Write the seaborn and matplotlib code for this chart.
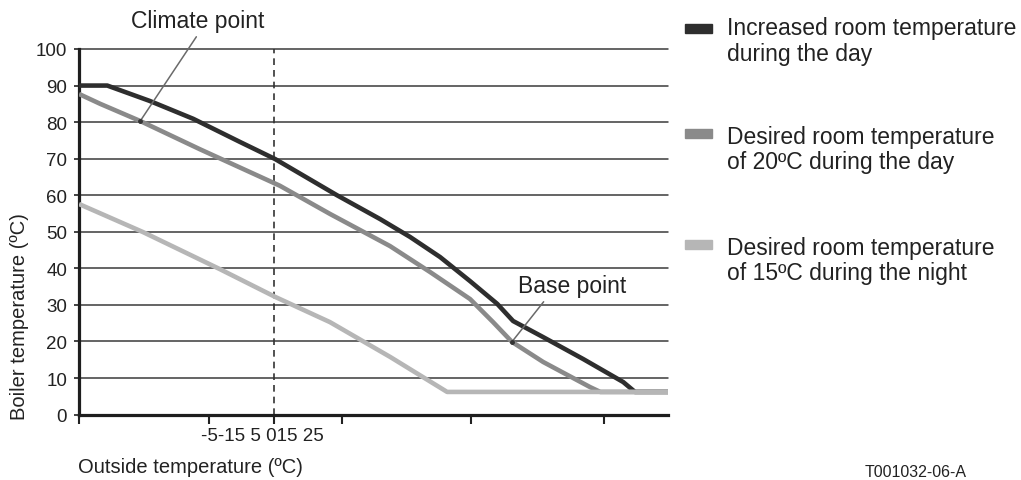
"""
Heating curve: boiler temperature vs outside temperature
"""

import matplotlib
matplotlib.use("Agg")
import matplotlib.pyplot as plt
from matplotlib.patches import Rectangle
import pandas as pd
import seaborn as sns

# curve data (x = position along the outside temperature axis, 0..100)
day_high_x = [0, 4.8, 12.0, 19.4, 27.3, 33.3, 43.8, 51.1, 56.2, 61.3, 66.4, 71.0, 73.7, 78.8, 85.6, 92.4, 94.4, 100]
day_high_y = [90, 90, 85.8, 80.9, 74.6, 69.9, 60.0, 53.5, 48.6, 43.1, 36.5, 30.3, 25.6, 21.2, 15.2, 8.9, 6.2, 6.2]
day_20_x = [0, 3.6, 10.4, 20.5, 34.1, 42.6, 52.8, 59.6, 66.4, 70.3, 73.5, 78.8, 86.8, 88.5, 100]
day_20_y = [87.7, 85.0, 80.3, 72.6, 62.6, 54.9, 46.1, 39.0, 31.6, 25.3, 19.9, 14.4, 7.5, 6.2, 6.2]
night_15_x = [0, 10.9, 23.9, 33.3, 42.6, 52.8, 62.5, 100]
night_15_y = [57.6, 49.9, 39.8, 32.2, 25.3, 15.8, 6.2, 6.2]

series_names = [
    "Increased room temperature\nduring the day",
    "Desired room temperature\nof 20ºC during the day",
    "Desired room temperature\nof 15ºC during the night",
]
series_colors = ["#2e2e2e", "#8a8a8a", "#b6b6b6"]

y_ticks = list(range(0, 101, 10))
x_ticks = [0, 22.1, 33.1, 44.7, 66.6, 89.1]
x_tick_text = "-5-15 5 015 25"
dashed_x = 33.1

climate_point = (10.4, 80.3)
climate_text = (20.2, 107.7)
base_point = (73.5, 19.9)
base_text = (83.7, 35.2)

sns.set_theme(style="white")
plt.rcParams['font.family'] = ['Liberation Sans', 'DejaVu Sans']

data = pd.concat([
    pd.DataFrame({"pos": day_high_x, "temp": day_high_y, "series": series_names[0]}),
    pd.DataFrame({"pos": day_20_x, "temp": day_20_y, "series": series_names[1]}),
    pd.DataFrame({"pos": night_15_x, "temp": night_15_y, "series": series_names[2]}),
])

fig = plt.figure(figsize=(10.21, 4.81), dpi=100)
ax = fig.add_axes([79 / 1021, 65.4 / 481, 589 / 1021, 365.6 / 481])

ax.set_ylim(0, 100)
ax.set_xlim(0, 100)
ax.set_yticks(y_ticks)
ax.set_xticks(x_ticks)
ax.set_xticklabels([])
ax.yaxis.grid(True, color="#3a3a3a", lw=1.1)
for gl in ax.yaxis.get_gridlines():
    gl.set_clip_on(False)
ax.xaxis.grid(False)

ax.axvline(dashed_x, color="#333333", lw=1.2, ls=(0, (4, 3)), zorder=1.5)

sns.lineplot(data=data, x="pos", y="temp", hue="series", palette=series_colors,
             linewidth=3.3, legend=False, ax=ax, estimator=None, sort=False, zorder=3)
for line in ax.get_lines():
    line.set_solid_capstyle("butt")
    line.set_solid_joinstyle("round")

ax.set_xlabel("")
ax.set_ylabel("")
ax.spines[["top", "right"]].set_visible(False)
for s in ["left", "bottom"]:
    ax.spines[s].set_linewidth(2.3)
    ax.spines[s].set_color("#1e1e1e")
ax.tick_params(axis="y", left=True, length=3.6, width=1.2, color="#222222", pad=5,
               labelsize=13.5, labelcolor="#222222")
ax.tick_params(axis="x", bottom=True, length=6.5, width=1.5, color="#222222")

ax.text(31.1, -0.0585, x_tick_text, transform=ax.get_xaxis_transform(),
        ha="center", va="center", fontsize=13.5, color="#222222")

# annotations
ax.annotate("Climate point", xy=climate_point, xytext=climate_text, ha="center", va="center",
            fontsize=16.5, color="#222222", annotation_clip=False,
            arrowprops=dict(arrowstyle="-", color="#6a6a6a", lw=1.1, shrinkA=1, shrinkB=0,
                            relpos=(0.51, 0)))
ax.annotate("Base point", xy=base_point, xytext=base_text, ha="center", va="center",
            fontsize=16.5, color="#222222", annotation_clip=False,
            arrowprops=dict(arrowstyle="-", color="#6a6a6a", lw=1.1, shrinkA=1, shrinkB=0,
                            relpos=(0.27, 0)))
ax.plot(*climate_point, "o", ms=2.5, color="#333333", zorder=4)
ax.plot(*base_point, "o", ms=2.5, color="#333333", zorder=4)

# legend drawn by hand (patch sits on the first text line)
patch_y = [29, 134, 245]
text_y = [41.5, 150, 261]
for name, col, py, ty in zip(series_names, series_colors, patch_y, text_y):
    fig.patches.append(Rectangle((685 / 1021, 1 - (py + 4.5) / 481), 27 / 1021, 9 / 481,
                                 transform=fig.transFigure, color=col))
    fig.text(727 / 1021, 1 - ty / 481, name, ha="left", va="center", fontsize=16.5,
             color="#222222", linespacing=1.15)

fig.text(78 / 1021, 1 - 468 / 481, "Outside temperature (ºC)", ha="left", va="center",
         fontsize=14.5, color="#222222")
fig.text(20 / 1021, 1 - 316.5 / 481, "Boiler temperature (ºC)", ha="center", va="center",
         rotation=90, fontsize=14.5, color="#222222")
fig.text(916 / 1021, 1 - 473 / 481, "T001032-06-A", ha="center", va="center",
         fontsize=11.5, color="#222222")

fig.savefig("out.png", dpi=100)
